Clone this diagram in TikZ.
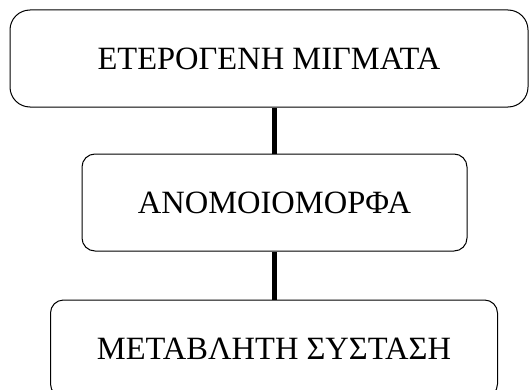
\documentclass[tikz,border=0pt]{standalone}
\usepackage{fontspec}
\setmainfont{Liberation Serif}
\usepackage{tikz}
\usetikzlibrary{calc}

\begin{document}
\begin{tikzpicture}[x=1pt, y=1pt,
        box/.style={draw, line width=1pt, rounded corners=#1, inner sep=0pt,
            minimum height=97pt, font=\fontsize{32.5}{38}\selectfont},
        link/.style={line width=5pt}]
            \useasboundingbox (0,0) rectangle (529,389);

            % Top box
            \node[box=20pt, minimum width=518pt] (mix) at (269,330.5) {ΕΤΕΡΟΓΕΝΗ ΜΙΓΜΑΤΑ};

            % Middle box
            \node[box=13pt, minimum width=385pt] (nonuni) at (274.5,186.5) {ΑΝΟΜΟΙΟΜΟΡΦΑ};

            % Bottom box
            \node[box=13pt, minimum width=447pt] (varcomp) at (274,40.5) {ΜΕΤΑΒΛΗΤΗ ΣΥΣΤΑΣΗ};

            % Links
            \draw[link] (nonuni.north) -- (nonuni.north |- mix.south);
            \draw[link] (varcomp.north) -- (varcomp.north |- nonuni.south);

        \end{tikzpicture}
\end{document}
